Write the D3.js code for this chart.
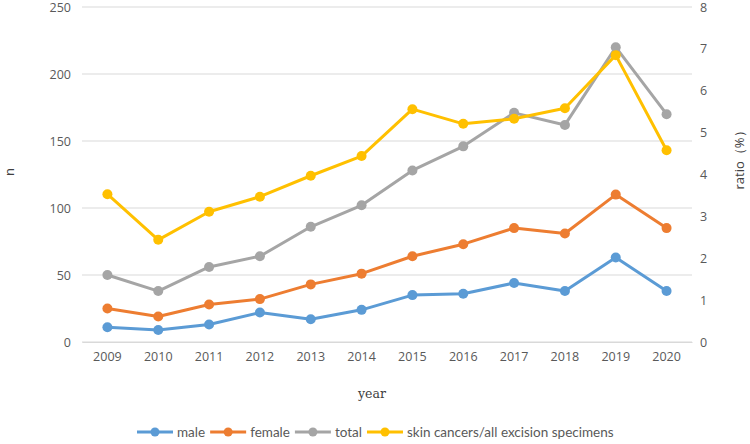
<!DOCTYPE html>
<html>
<head>
<meta charset="utf-8">
<script src="https://cdn.jsdelivr.net/npm/d3@7"></script>
<style>
html,body{margin:0;padding:0;background:#fff;}
svg{display:block;}
text{font-family:"Open Sans","Liberation Sans",sans-serif;}
</style>
</head>
<body>
<svg id="chart" width="750" height="444"></svg>
<script>
const years = ["2009","2010","2011","2012","2013","2014","2015","2016","2017","2018","2019","2020"];
const male = [11, 9, 13, 22, 17, 24, 35, 36, 44, 38, 63, 38];
const female = [25, 19, 28, 32, 43, 51, 64, 73, 85, 81, 110, 85];
const total = [50, 38, 56, 64, 86, 102, 128, 146, 171, 162, 220, 170];
const ratio = [3.53, 2.44, 3.11, 3.47, 3.97, 4.44, 5.56, 5.21, 5.33, 5.58, 6.85, 4.58];
const leftTicks = [0, 50, 100, 150, 200, 250];
const rightTicks = [0, 1, 2, 3, 4, 5, 6, 7, 8];
const seriesNames = ["male", "female", "total", "skin cancers/all excision specimens"];
const colors = ["#5B9BD5", "#ED7D31", "#A5A5A5", "#FFC000"];

const svg = d3.select("#chart");
const x0 = 82, x1 = 692, yTop = 7, yBot = 342;
const x = d3.scaleBand().domain(years).range([x0, x1]);
const yL = d3.scaleLinear().domain([0, 250]).range([yBot, yTop]);
const yR = d3.scaleLinear().domain([0, 8]).range([yBot, yTop]);

// gridlines
svg.append("g").selectAll("line").data(leftTicks).join("line")
  .attr("x1", x0).attr("x2", x1)
  .attr("y1", d => yL(d)).attr("y2", d => yL(d))
  .attr("stroke", "#D9D9D9").attr("stroke-width", 1);

// left axis
const gl = svg.append("g").attr("transform", `translate(${x0},0)`)
  .call(d3.axisLeft(yL).tickValues(leftTicks).tickSize(0).tickPadding(11));
gl.select(".domain").remove();
gl.selectAll("text").attr("fill", "#595959").style("font-size", "12.5px");

// right axis
const gr = svg.append("g").attr("transform", `translate(${x1},0)`)
  .call(d3.axisRight(yR).tickValues(rightTicks).tickSize(0).tickPadding(8));
gr.select(".domain").remove();
gr.selectAll("text").attr("fill", "#595959").style("font-size", "12.5px");

// bottom axis
const gb = svg.append("g").attr("transform", `translate(0,${yBot})`)
  .call(d3.axisBottom(x).tickSize(0).tickPadding(10));
gb.select(".domain").attr("stroke", "#D9D9D9");
gb.selectAll("text").attr("fill", "#595959").style("font-size", "12.5px");

// axis titles
svg.append("text").attr("transform", `translate(14,172) rotate(-90)`)
  .attr("text-anchor", "middle").attr("fill", "#404040").style("font-size", "13px").text("n");
svg.append("text").attr("transform", `translate(744,157) rotate(-90)`)
  .attr("text-anchor", "middle").attr("fill", "#404040").style("font-size", "13px").text("ratio（%）");
svg.append("text").attr("x", 372).attr("y", 398)
  .attr("text-anchor", "middle").attr("fill", "#404040")
  .style("font-family", "'DejaVu Serif','Liberation Serif',serif").style("font-size", "12.5px").text("year");

// series
const data = [
  {vals: male, y: yL},
  {vals: female, y: yL},
  {vals: total, y: yL},
  {vals: ratio, y: yR}
];
const cx = d => x(d) + x.bandwidth() / 2;
data.forEach((s, i) => {
  const g = svg.append("g");
  const line = d3.line().x((d, j) => cx(years[j])).y(d => s.y(d));
  g.append("path").datum(s.vals).attr("d", line)
    .attr("fill", "none").attr("stroke", colors[i]).attr("stroke-width", 3)
    .attr("stroke-linejoin", "round").attr("stroke-linecap", "round");
  g.selectAll("circle").data(s.vals).join("circle")
    .attr("cx", (d, j) => cx(years[j])).attr("cy", d => s.y(d))
    .attr("r", 5).attr("fill", colors[i]);
});

// legend
const leg = svg.append("g");
let lx = 137;
const ly = 432;
seriesNames.forEach((name, i) => {
  leg.append("line").attr("x1", lx).attr("x2", lx + 36).attr("y1", ly).attr("y2", ly)
    .attr("stroke", colors[i]).attr("stroke-width", 3);
  leg.append("circle").attr("cx", lx + 18).attr("cy", ly).attr("r", 4.5).attr("fill", colors[i]);
  const t = leg.append("text").attr("x", lx + 40).attr("y", ly + 4.5)
    .attr("fill", "#595959").style("font-family", "Lato, 'Open Sans', sans-serif")
    .style("font-size", "13.5px").text(name);
  lx += 40 + t.node().getComputedTextLength() + 5;
});
</script>
</body>
</html>
